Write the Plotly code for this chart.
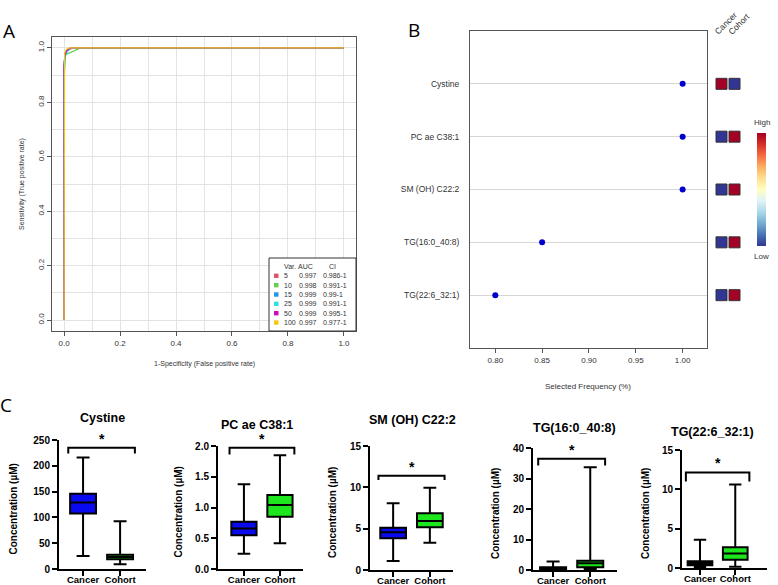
import plotly.graph_objects as go

W, H = 778, 585
def px(x): return x / W
def py(y): return 1 - y / H

# ---------------- Panel A data (ROC curves) ----------------
roc_vars = ["5", "10", "15", "25", "50", "100"]
roc_auc = ["0.997", "0.998", "0.999", "0.999", "0.999", "0.997"]
roc_ci = ["0.986-1", "0.991-1", "0.99-1", "0.991-1", "0.995-1", "0.977-1"]
roc_colors = ["#DF536B", "#61D04F", "#2297E6", "#28E2E5", "#CD0BBC", "#F5C710"]
fpr_5 = [0, 0, 0.004, 0.010, 0.020, 0.035, 1.0]
tpr_5 = [0, 0.93, 0.972, 0.986, 0.995, 1.0, 1.0]
fpr_10 = [0, 0, 0.006, 0.020, 0.035, 0.055, 1.0]
tpr_10 = [0, 0.95, 0.975, 0.982, 0.988, 0.998, 1.0]
fpr_15 = [0, 0, 0.003, 0.008, 0.015, 0.025, 1.0]
tpr_15 = [0, 0.90, 0.965, 0.985, 0.996, 1.0, 1.0]
fpr_25 = [0, 0, 0.005, 0.012, 0.020, 0.030, 1.0]
tpr_25 = [0, 0.88, 0.970, 0.988, 0.996, 1.0, 1.0]
fpr_50 = [0, 0, 0.004, 0.010, 0.018, 0.028, 1.0]
tpr_50 = [0, 0.94, 0.978, 0.990, 0.997, 1.0, 1.0]
fpr_100 = [0, 0, 0.002, 0.006, 0.012, 0.020, 1.0]
tpr_100 = [0, 0.96, 0.982, 0.992, 0.997, 1.0, 1.0]
roc_fpr = [fpr_5, fpr_10, fpr_15, fpr_25, fpr_50, fpr_100]
roc_tpr = [tpr_5, tpr_10, tpr_15, tpr_25, tpr_50, tpr_100]

# ---------------- Panel B data ----------------
features = ["Cystine", "PC ae C38:1", "SM (OH) C22:2", "TG(16:0_40:8)", "TG(22:6_32:1)"]
sel_freq = [1.00, 1.00, 1.00, 0.85, 0.80]
heat_cancer = [1, 0, 0, 0, 0]
heat_cohort = [0, 1, 1, 1, 1]
heat_groups = ["Cancer", "Cohort"]
freq_ticks = [0.80, 0.85, 0.90, 0.95, 1.00]

# ---------------- Panel C data (box plots) ----------------
cancer_min = [25.3, 0.25, 1.1, 0.2, 0.13]
cancer_q1 = [107.5, 0.55, 3.83, 0.33, 0.34]
cancer_med = [128.9, 0.66, 4.56, 0.55, 0.60]
cancer_q3 = [145.7, 0.77, 5.12, 0.87, 0.85]
cancer_max = [216, 1.38, 8.06, 2.8, 3.6]
cohort_min = [9.1, 0.42, 3.3, 0.33, 0.15]
cohort_q1 = [18.8, 0.85, 5.16, 0.87, 1.06]
cohort_med = [23.3, 1.04, 5.93, 2.2, 1.83]
cohort_q3 = [27.8, 1.205, 6.85, 3.05, 2.63]
cohort_max = [92.6, 1.85, 9.96, 33.7, 10.6]
y_max = [250, 2.0, 15, 40, 15]
y_dtick = [50, 0.5, 5, 10, 5]
bracket_top = [235, 1.97, 11.4, 36.5, 12.15]
bracket_drop = [224, 1.86, 10.9, 34.3, 11.0]
box_groups = ["Cancer", "Cohort"]

# ---------------- layout geometry (pixels) ----------------
c_x0 = [59, 218, 370, 533, 682]
c_x1 = [146, 303, 453, 617, 767]
c_ytop = [440, 446, 446, 448, 450]
c_ybot = [569, 569, 570, 570, 568]
c_xr = [(-0.65, 1.7), (-0.72, 1.64), (-0.63, 1.63), (-0.54, 1.72), (-0.51, 1.9)]
c_title = [(102, 418), (257, 425), (412, 420), (574, 428), (712, 432)]
c_ytitle_x = [13, 178, 332, 495, 645]

RF = "Liberation Sans"
fig = go.Figure()
annotations = []
shapes = []

# ---------------- Panel A ----------------
for i in range(len(roc_vars)):
    fig.add_trace(go.Scatter(x=roc_fpr[i], y=roc_tpr[i], mode="lines",
                             line=dict(color=roc_colors[i], width=1.2),
                             xaxis="x", yaxis="y", showlegend=False, hoverinfo="skip"))

lx0, ly0, lx1, ly1 = 269, 258, 356, 331
shapes.append(dict(type="rect", xref="paper", yref="paper", x0=px(lx0), x1=px(lx1),
                   y0=py(ly1), y1=py(ly0), line=dict(color="#333", width=1),
                   fillcolor="white", layer="above"))
hf = dict(family=RF, size=7, color="#333")
annotations += [
    dict(x=px(282), y=py(267), text="Var.", xanchor="left", font=hf),
    dict(x=px(295.5), y=py(267), text="AUC", xanchor="left", font=hf),
    dict(x=px(327), y=py(267), text="CI", xanchor="left", font=hf),
]
for i, v in enumerate(roc_vars):
    yy = 275.8 + i * 9.35
    shapes.append(dict(type="rect", xref="paper", yref="paper", x0=px(274), x1=px(278.5),
                       y0=py(yy + 2.2), y1=py(yy - 2.2), line=dict(width=0),
                       fillcolor=roc_colors[i], layer="above"))
    annotations += [
        dict(x=px(282), y=py(yy), text=v, xanchor="left", font=hf),
        dict(x=px(297), y=py(yy), text=roc_auc[i], xanchor="left", font=hf),
        dict(x=px(321), y=py(yy), text=roc_ci[i], xanchor="left", font=hf),
    ]
annotations += [
    dict(x=px(204), y=py(364), text="1-Specificity (False positive rate)",
         font=dict(family=RF, size=7, color="#333")),
    dict(x=px(22), y=py(184), text="Sensitivity (True positive rate)", textangle=-90,
         font=dict(family=RF, size=7, color="#333")),
    dict(x=px(9), y=py(31), text="A", font=dict(family="Open Sans", size=19, color="black")),
    dict(x=px(414), y=py(30), text="B", font=dict(family="Open Sans", size=19, color="black")),
    dict(x=px(6), y=py(405), text="C", font=dict(family="Open Sans", size=19, color="black")),
]

# ---------------- Panel B ----------------
row_pos = list(range(len(features), 0, -1))
fig.add_trace(go.Scatter(x=sel_freq, y=row_pos, mode="markers",
                         marker=dict(color="#0000CD", size=6),
                         xaxis="x2", yaxis="y2", showlegend=False, hoverinfo="skip"))

rdylbu = ["#313695", "#4575b4", "#74add1", "#abd9e9", "#e0f3f8", "#ffffbf",
          "#fee090", "#fdae61", "#f46d43", "#d73027", "#a50026"]
cscale = [[k / (len(rdylbu) - 1), c] for k, c in enumerate(rdylbu)]
hx, hy, hz = [], [], []
for r, (a, b) in enumerate(zip(heat_cancer, heat_cohort)):
    hx += [0, 1]
    hy += [row_pos[r], row_pos[r]]
    hz += [a, b]
fig.add_trace(go.Scatter(x=hx, y=hy, mode="markers", xaxis="x3", yaxis="y3",
                         marker=dict(symbol="square", size=11, color=hz, colorscale=cscale,
                                     cmin=0, cmax=1, line=dict(color="#333", width=1),
                                     showscale=True,
                                     colorbar=dict(x=px(757), xanchor="left", y=py(189.5),
                                                   yanchor="middle", len=113 / H, thickness=9,
                                                   xpad=0, ypad=0, outlinewidth=0,
                                                   showticklabels=False, ticks="")),
                         showlegend=False, hoverinfo="skip"))
bf = dict(family=RF, size=8, color="#333")
annotations += [
    dict(x=px(726), y=py(23), text=heat_groups[0], textangle=-45, font=dict(family=RF, size=8.5, color="#333")),
    dict(x=px(739), y=py(24), text=heat_groups[1], textangle=-45, font=dict(family=RF, size=8.5, color="#333")),
    dict(x=px(761.5), y=py(122), text="High", font=bf),
    dict(x=px(761.5), y=py(256), text="Low", font=bf),
    dict(x=px(588), y=py(386), text="Selected Frequency (%)", font=bf),
]

# ---------------- Panel C ----------------
BF = dict(family=RF, size=10, color="black", weight="bold")
for k in range(5):
    xa = "x%d" % (k + 4)
    ya = "y%d" % (k + 4)
    fig.add_trace(go.Box(x=[0], q1=[cancer_q1[k]], median=[cancer_med[k]], q3=[cancer_q3[k]],
                         lowerfence=[cancer_min[k]], upperfence=[cancer_max[k]],
                         fillcolor="#0A0AF0", line=dict(color="black", width=2),
                         width=0.7, whiskerwidth=0.5, boxpoints=False,
                         xaxis=xa, yaxis=ya, showlegend=False, hoverinfo="skip"))
    fig.add_trace(go.Box(x=[1], q1=[cohort_q1[k]], median=[cohort_med[k]], q3=[cohort_q3[k]],
                         lowerfence=[cohort_min[k]], upperfence=[cohort_max[k]],
                         fillcolor="#1EE61E", line=dict(color="black", width=2),
                         width=0.7, whiskerwidth=0.5, boxpoints=False,
                         xaxis=xa, yaxis=ya, showlegend=False, hoverinfo="skip"))
    shapes.append(dict(type="path", xref=xa, yref=ya,
                       path="M -0.4,%g L -0.4,%g L 1.4,%g L 1.4,%g" % (
                           bracket_drop[k], bracket_top[k], bracket_top[k], bracket_drop[k]),
                       line=dict(color="black", width=2)))
    annotations.append(dict(x=0.5, y=bracket_top[k], xref=xa, yref=ya, text="*",
                            yanchor="bottom", yshift=-1,
                            font=dict(family=RF, size=14, color="black", weight="bold")))
    annotations.append(dict(x=px(c_title[k][0]), y=py(c_title[k][1]), text=features[k],
                            font=dict(family=RF, size=12.5, color="black", weight="bold")))
    annotations.append(dict(x=px(c_ytitle_x[k]), y=py((c_ytop[k] + c_ybot[k]) / 2 + 5),
                            text="Concentration (µM)", textangle=-90, font=BF))

# ---------------- axes ----------------
layout_axes = dict(
    xaxis=dict(domain=[px(52), px(356)], range=[-0.043, 1.043], anchor="y",
               tickvals=[0, 0.2, 0.4, 0.6, 0.8, 1.0], tickformat=".1f", tickangle=0,
               showgrid=True, gridcolor="#E3E3E3", gridwidth=1,
               minor=dict(dtick=0.1, showgrid=True, gridcolor="#E3E3E3", gridwidth=1),
               zeroline=False, showline=True, mirror=True, linecolor="#555", linewidth=1,
               ticks="outside", ticklen=4, tickcolor="#555", automargin=False,
               tickfont=dict(family=RF, size=8, color="#333")),
    yaxis=dict(domain=[py(331), py(37)], range=[-0.04, 1.04], anchor="x",
               tickvals=[0, 0.2, 0.4, 0.6, 0.8, 1.0], tickformat=".1f", tickangle=-90,
               showgrid=True, gridcolor="#E3E3E3", gridwidth=1,
               minor=dict(dtick=0.1, showgrid=True, gridcolor="#E3E3E3", gridwidth=1),
               zeroline=False, showline=True, mirror=True, linecolor="#555", linewidth=1,
               ticks="outside", ticklen=4, tickcolor="#555", automargin=False,
               tickfont=dict(family=RF, size=8, color="#333")),
    xaxis2=dict(domain=[px(470), px(707)], range=[0.773, 1.026], anchor="y2",
                tickvals=freq_ticks, tickformat=".2f", showgrid=False, zeroline=False,
                showline=True, mirror=True, linecolor="#555", linewidth=1, tickangle=0,
                ticks="outside", ticklen=4, tickcolor="#555", automargin=False,
                tickfont=dict(family=RF, size=8, color="#333")),
    yaxis2=dict(domain=[py(348), py(31)], range=[0, 6], anchor="x2",
                tickvals=row_pos, ticktext=features, showgrid=True, gridcolor="#D6D6D6",
                zeroline=False, showline=True, mirror=True, linecolor="#555", linewidth=1,
                ticks="", ticklabelstandoff=8, automargin=False,
                tickfont=dict(family=RF, size=8.5, color="#333")),
    xaxis3=dict(domain=[px(715), px(741)], range=[-0.5, 1.5], anchor="y3", visible=False,
                automargin=False),
    yaxis3=dict(domain=[py(348), py(31)], range=[0, 6], anchor="x3", visible=False,
                automargin=False),
)
for k in range(5):
    n = k + 4
    layout_axes["xaxis%d" % n] = dict(
        domain=[px(c_x0[k]), px(c_x1[k])], range=list(c_xr[k]), anchor="y%d" % n,
        tickvals=[0, 1], ticktext=box_groups, showgrid=False, zeroline=False, tickangle=0,
        showline=True, linecolor="black", linewidth=2, ticks="outside", ticklen=5,
        tickwidth=2, tickcolor="black", automargin=False, ticklabelstandoff=-4,
        tickfont=dict(family=RF, size=9.5, color="black", weight="bold"))
    layout_axes["yaxis%d" % n] = dict(
        domain=[py(c_ybot[k]), py(c_ytop[k])], range=[0, y_max[k]], anchor="x%d" % n,
        dtick=y_dtick[k], tick0=0, tickformat=(".1f" if y_dtick[k] < 1 else "d"),
        showgrid=False, zeroline=False, tickangle=0,
        showline=True, linecolor="black", linewidth=2, ticks="outside", ticklen=5,
        tickwidth=2, tickcolor="black", automargin=False,
        tickfont=dict(family=RF, size=10, color="black", weight="bold"))

for a in annotations:
    a.setdefault("xref", "paper")
    a.setdefault("yref", "paper")
    a.setdefault("xanchor", "center")
    a.setdefault("yanchor", "middle")
    a["showarrow"] = False

fig.update_layout(template="none", width=W, height=H, margin=dict(l=0, r=0, t=0, b=0, pad=0),
                  paper_bgcolor="white", plot_bgcolor="white",
                  showlegend=False, annotations=annotations, shapes=shapes,
                  **layout_axes)
fig.write_html("out.html", config={"displayModeBar": False},
               post_script="document.body.style.margin='0px';")
